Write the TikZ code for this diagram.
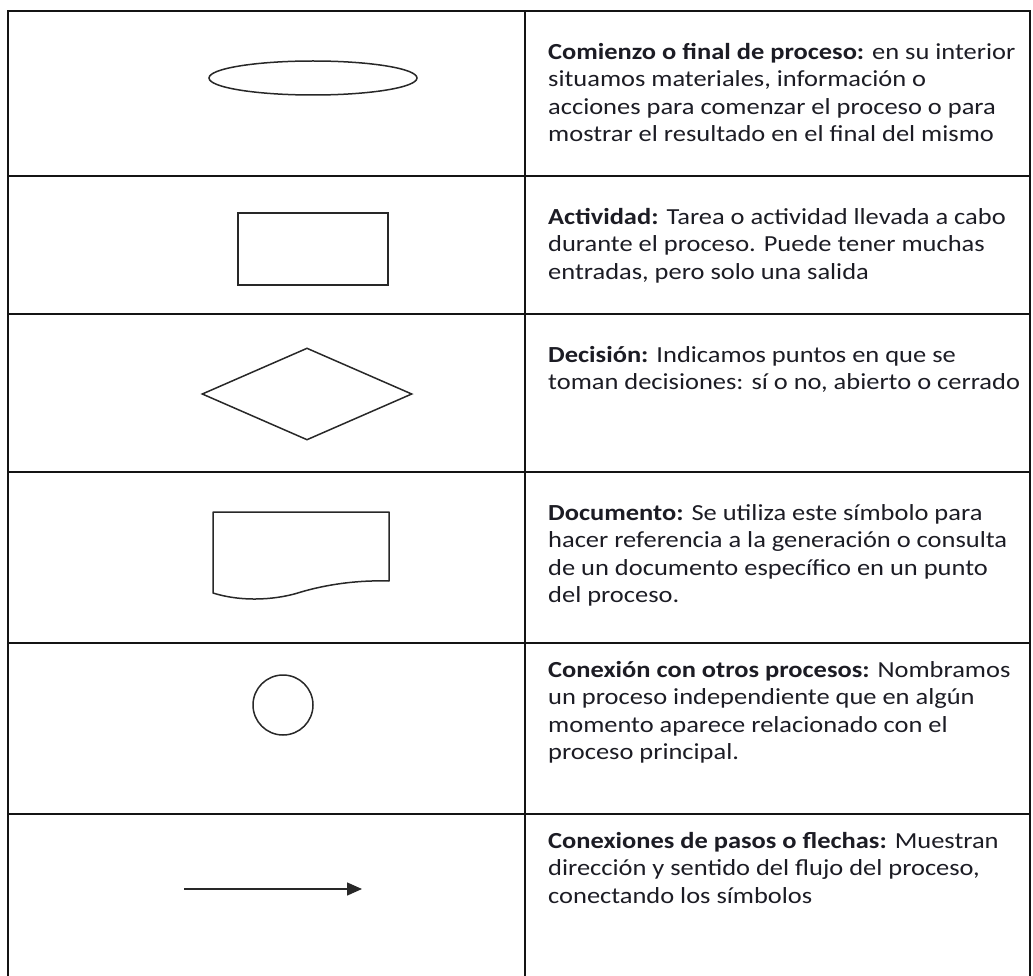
\documentclass[tikz,border=0pt]{standalone}
\usepackage{fontspec}
\setmainfont{Carlito}[FakeStretch=1.15]
\usetikzlibrary{shapes.geometric,arrows.meta}
\definecolor{txt}{RGB}{28,28,36}
\definecolor{rule}{RGB}{20,20,20}
\definecolor{shp}{RGB}{40,40,40}
\begin{document}
\begin{tikzpicture}[x=1pt,y=-1pt,
  grid/.style={draw=rule,line width=2pt},
  sym/.style={draw=shp,line width=1.5pt,inner sep=0pt},
  desc/.style={anchor=north west,inner sep=0pt,align=left,text=txt,
    font=\fontsize{23}{27.5}\selectfont}]
\useasboundingbox (0,0) rectangle (1033,976);
% table
\draw[grid] (8,976) -- (8,11) -- (1030,11) -- (1030,976);
\draw[grid] (525,11) -- (525,976);
\foreach \yy in {176,314,472,643,814} \draw[grid] (8,\yy) -- (1030,\yy);
% symbols
\node[sym,ellipse,minimum width=208,minimum height=34] (inicio) at (313,78) {};
\node[sym,rectangle,minimum width=150,minimum height=72] (actividad) at (313,249) {};
\node[sym,diamond,minimum width=210,minimum height=92] (decision) at (307,394) {};
\draw[sym,line join=round] (213,512) -- (389,512) -- (389,581)
  .. controls (355,580) and (325,585) .. (301,592)
  .. controls (280,599) and (245,603) .. (213,593) -- cycle;
\node[sym,circle,minimum size=60] (conexion) at (283,705) {};
\coordinate (flechaA) at (184,889);
\coordinate (flechaB) at (362,889);
\draw[draw=shp,line width=1.5pt,-{Triangle[length=15pt,width=13pt]}] (flechaA) -- (flechaB);
% descriptions
\node[desc] (t1) at (548,43) {\textbf{Comienzo o final de proceso:} en su interior\\
situamos materiales, información o\\
acciones para comenzar el proceso o para\\
mostrar el resultado en el final del mismo};
\node[desc] (t2) at (548,208) {\textbf{Actividad:} Tarea o actividad llevada a cabo\\
durante el proceso. Puede tener muchas\\
entradas, pero solo una salida};
\node[desc] (t3) at (548,346) {\textbf{Decisión:} Indicamos puntos en que se\\
toman decisiones: sí o no, abierto o cerrado};
\node[desc] (t4) at (548,504) {\textbf{Documento:} Se utiliza este símbolo para\\
hacer referencia a la generación o consulta\\
de un documento específico en un punto\\
del proceso.};
\node[desc] (t5) at (548,661) {\textbf{Conexión con otros procesos:} Nombramos\\
un proceso independiente que en algún\\
momento aparece relacionado con el\\
proceso principal.};
\node[desc] (t6) at (548,832) {\textbf{Conexiones de pasos o flechas:} Muestran\\
dirección y sentido del flujo del proceso,\\
conectando los símbolos};
\end{tikzpicture}
\end{document}
